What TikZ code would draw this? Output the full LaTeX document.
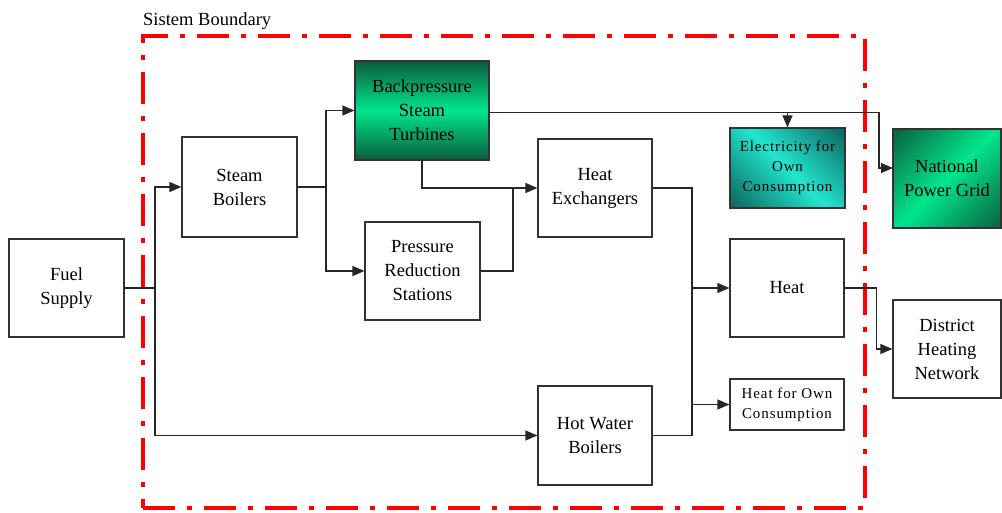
\documentclass[tikz,border=0pt]{standalone}
\usepackage{fontspec}
\setmainfont{Liberation Serif}
\usepackage{tikz}
\usetikzlibrary{arrows.meta,positioning,shadings}
\definecolor{edgeGray}{HTML}{333333}
\definecolor{brightGreen}{HTML}{00E68C}
\definecolor{darkGreen}{HTML}{0B5C3E}
\definecolor{brightCyan}{HTML}{22E6D0}
\definecolor{darkTeal}{HTML}{0A5E57}
\definecolor{sysRed}{HTML}{FF0000}

\begin{document}
\begin{tikzpicture}[x=1pt, y=-1pt,
  font=\fontsize{18.5}{24}\selectfont,
  box/.style={draw=edgeGray, line width=1.2pt, align=center, inner sep=2pt, fill=white},
  smallbox/.style={box, font=\fontsize{15}{20}\selectfont\addfontfeature{LetterSpace=6}},
  turbbox/.style={box, top color=darkGreen, bottom color=darkGreen, middle color=brightGreen},
  gridbox/.style={box, path picture={
    \shade[top color=darkGreen, bottom color=darkGreen, middle color=brightGreen, shading angle=45]
      ([xshift=-76pt, yshift=-76pt]path picture bounding box.center) rectangle ([xshift=76pt, yshift=76pt]path picture bounding box.center);}},
  elecbox/.style={smallbox, path picture={
    \shade[top color=darkTeal, bottom color=darkTeal, middle color=brightCyan, shading angle=-45]
      ([xshift=-72pt, yshift=-72pt]path picture bounding box.center) rectangle ([xshift=72pt, yshift=72pt]path picture bounding box.center);}},
  boundary/.style={draw=sysRed, line width=4.5pt, dash pattern=on 32pt off 12pt on 5pt off 12pt},
  line/.style={draw=black!85, line width=1.2pt},
  arrow/.style={line, -{Triangle[length=12pt, width=10pt]}},
]
\useasboundingbox (0,0) rectangle (1002,513);

% system boundary
\node[boundary, minimum width=722, minimum height=472, inner sep=0pt] (bound) at (504,272) {};
\node[anchor=base west, inner sep=0pt, font=\fontsize{18.5}{22}\selectfont] (blabel) at (143,26) {Sistem Boundary};

% boxes
\node[box, minimum width=115, minimum height=98] (fuel) at (66.5,288) {Fuel\\Supply};
\node[box, minimum width=115, minimum height=100] (steam) at (239.5,187) {Steam\\Boilers};
\node[turbbox, minimum width=134, minimum height=99] (turb) at (422,110.5) {Backpressure\\Steam\\Turbines};
\node[box, minimum width=115, minimum height=98] (prs) at (422.5,271) {Pressure\\Reduction\\Stations};
\node[box, minimum width=114, minimum height=98] (hex) at (595,188) {Heat\\Exchangers};
\node[box, minimum width=114, minimum height=99] (hotwater) at (595,435.5) {Hot Water\\Boilers};
\node[elecbox, minimum width=115, minimum height=80] (elec) at (787.5,168) {Electricity for\\Own\\Consumption};
\node[box, minimum width=114, minimum height=98] (heat) at (787,288) {Heat};
\node[smallbox, minimum width=114, minimum height=51] (heatown) at (787,404.5) {Heat for Own\\Consumption};
\node[gridbox, minimum width=108, minimum height=99] (grid) at (947,178.5) {National\\Power Grid};
\node[box, minimum width=108, minimum height=98] (district) at (947,349) {District\\Heating\\Network};

% junctions
\coordinate (fj) at (155,288);
\coordinate (sj) at (326,187);
\coordinate (hj) at (513,188);
\coordinate (xj) at (692,188);
\coordinate (gridin) at (893,168);

% fuel to boilers
\draw[line] (fuel.east) -- (fj);
\draw[arrow] (fj) |- (steam.west);
\draw[arrow] (fj) |- (hotwater.west);

% steam side
\draw[line] (steam.east) -- (sj);
\draw[arrow] (sj) |- (turb.west);
\draw[arrow] (sj) |- (prs.west);
\draw[arrow] (turb.south) |- (hex.west);
\draw[line] (prs.east) -| (hj);

% electricity
\draw[arrow] ([yshift=-2pt]turb.east) -| ([xshift=-14pt]gridin) -- (gridin);
\draw[arrow] ([yshift=-2pt]turb.east -| elec.north) -- (elec.north);

% heat side
\draw[line] (hex.east) -| (xj |- hotwater.east) -- (hotwater.east);
\draw[arrow] (xj |- heat.west) -- (heat.west);
\draw[arrow] (xj |- heatown.west) -- (heatown.west);
\draw[arrow] (heat.east) -| ([xshift=-16pt]district.west) -- (district.west);
\end{tikzpicture}
\end{document}
